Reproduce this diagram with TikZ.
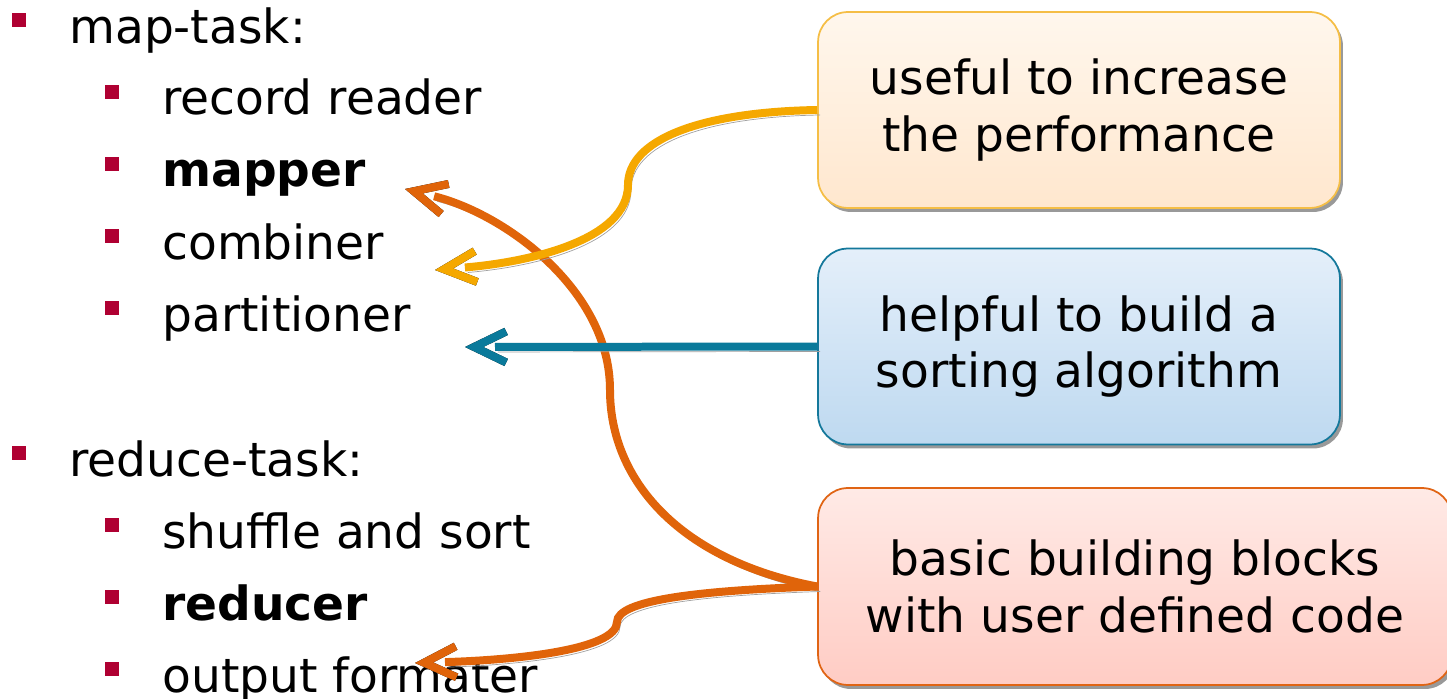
\documentclass[tikz,border=0pt]{standalone}
\usepackage{fontspec}
\setmainfont{DejaVu Sans}
\usepackage{tikz}
\usetikzlibrary{arrows.meta, positioning, shadows, decorations.markings}
\definecolor{bulletcolor}{RGB}{175, 0, 50}
\definecolor{yellowline}{RGB}{245, 168, 0}
\definecolor{orangeline}{RGB}{224, 100, 10}
\definecolor{tealline}{RGB}{10, 122, 155}
\definecolor{shadowgray}{RGB}{160, 160, 160}
\definecolor{usefulborder}{RGB}{245, 190, 70}
\definecolor{usefultop}{RGB}{255, 247, 237}
\definecolor{usefulbottom}{RGB}{255, 231, 206}
\definecolor{helpfulborder}{RGB}{20, 120, 155}
\definecolor{helpfultop}{RGB}{228, 239, 250}
\definecolor{helpfulbottom}{RGB}{190, 217, 240}
\definecolor{basicborder}{RGB}{224, 100, 20}
\definecolor{basictop}{RGB}{255, 234, 230}
\definecolor{basicbottom}{RGB}{255, 204, 196}

\begin{document}
\begin{tikzpicture}[
        x=0.02cm, y=-0.02cm,
        listitem/.style={anchor=base west, inner sep=0pt, font=\fontsize{26.8}{32}\selectfont},
        bulletbox/.style={rectangle, fill=bulletcolor, minimum size=0.28cm, inner sep=0pt},
        notebox/.style={rectangle, rounded corners=0.6cm, line width=1pt, align=center, minimum height=3.92cm, font=\fontsize{26.8}{32}\selectfont, execute at begin node={\rule{0pt}{27pt}}, drop shadow={shadow xshift=0.06cm, shadow yshift=-0.08cm, fill=black!40, opacity=1}},
        tipmark/.style={decorate, decoration={markings, mark=at position 1 with {\arrow[line width=0.16cm]{Straight Barb[length=0.64cm, width=0.62cm]}}}},
        arrow/.style={line width=0.16cm, shorten >=0.6cm,
            preaction={draw, color=shadowgray, transform canvas={shift={(3,5)}}},
            preaction={color=shadowgray, transform canvas={shift={(3,5)}}, tipmark},
            postaction={tipmark}}
    ]
        \useasboundingbox (0,0) rectangle (1447,699);

        % Bullets
        \node (bmap) [bulletbox] at (19,20) {};
        \node (brecord) [bulletbox] at (112,92) {};
        \node (bmapper) [bulletbox] at (112,164) {};
        \node (bcombiner) [bulletbox] at (112,236) {};
        \node (bpartitioner) [bulletbox] at (112,308) {};
        \node (breduce) [bulletbox] at (19,453) {};
        \node (bshuffle) [bulletbox] at (112,525) {};
        \node (breducer) [bulletbox] at (112,597) {};
        \node (boutput) [bulletbox] at (112,669) {};

        % List items
        \node (maptask) [listitem] at (69,44) {map-task:};
        \node (record) [listitem] at (162,115) {record reader};
        \node (mapper) [listitem] at (162,187) {\bfseries mapper};
        \node (combiner) [listitem] at (162,259) {combiner};
        \node (partitioner) [listitem] at (162,331) {partitioner};
        \node (reducetask) [listitem] at (69,476) {reduce-task:};
        \node (shuffle) [listitem] at (162,548) {shuffle and sort};
        \node (reducer) [listitem] at (162,620) {\bfseries reducer};
        \node (output) [listitem] at (162,692) {output formater};

        % Arrow ends
        \coordinate (mappertip) at (405,189);
        \coordinate (combinertip) at (435,270);
        \coordinate (partitionertip) at (465,347);
        \coordinate (outputtip) at (415,663);

        % Boxes
        \node (useful) [notebox, draw=usefulborder, top color=usefultop, bottom color=usefulbottom, minimum width=10.44cm] at (1079,110) {useful to increase\\the performance};
        \node (helpful) [notebox, draw=helpfulborder, top color=helpfultop, bottom color=helpfulbottom, minimum width=10.44cm] at (1079,346.5) {helpful to build a\\sorting algorithm};
        \node (basic) [notebox, draw=basicborder, top color=basictop, bottom color=basicbottom, minimum width=12.68cm, minimum height=3.94cm] at (1135,586.5) {basic building blocks\\with user defined code};

        % Arrows
        \draw [arrow, orangeline] (basic.west) .. controls +(-138,-26) and +(0,90) .. (610,390) .. controls +(0,-100) and +(100,25) .. (mappertip);
        \draw [arrow, orangeline] (basic.west) .. controls +(-118,4) and +(0,-22) .. (617,622) .. controls +(0,28) and +(100,-3) .. (outputtip);
        \draw [arrow, yellowline] (useful.west) .. controls +(-118,2) and +(0,-45) .. (628,185) .. controls +(0,55) and +(95,-8) .. (combinertip);
        \draw [arrow, tealline] (helpful.west) -- (partitionertip);
    \end{tikzpicture}
\end{document}
